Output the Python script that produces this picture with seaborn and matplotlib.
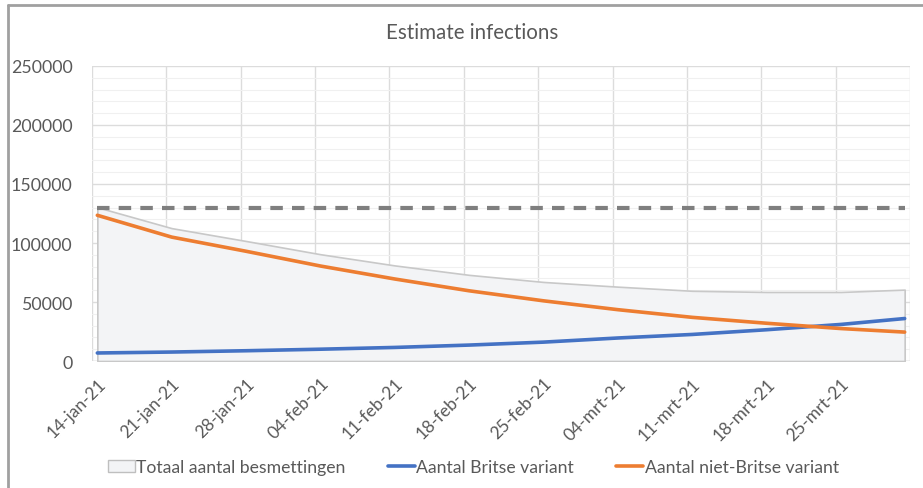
import pandas as pd
import matplotlib.pyplot as plt
from matplotlib.lines import Line2D
from matplotlib.patches import Patch
import seaborn as sns

# Weekly readings from the chart (last point = 31 March)
dates = ['2021-01-14', '2021-01-21', '2021-01-28', '2021-02-04', '2021-02-11', '2021-02-18',
         '2021-02-25', '2021-03-04', '2021-03-11', '2021-03-18', '2021-03-25', '2021-03-31']
britse = [6800, 7600, 8700, 10000, 11500, 13500, 16000, 19500, 22500, 26500, 31000, 36000]
niet_britse = [123500, 105000, 93000, 80500, 69500, 59500, 51000, 43500, 37000, 32000, 27500, 24500]
totaal = [130300, 112600, 101700, 90500, 81000, 73000, 67000, 63000, 59500, 58500, 58500, 60500]
grens = 130000

tick_dates = ['2021-01-14', '2021-01-21', '2021-01-28', '2021-02-04', '2021-02-11', '2021-02-18',
              '2021-02-25', '2021-03-04', '2021-03-11', '2021-03-18', '2021-03-25']
tick_labels = ['14-jan-21', '21-jan-21', '28-jan-21', '04-feb-21', '11-feb-21', '18-feb-21',
               '25-feb-21', '04-mrt-21', '11-mrt-21', '18-mrt-21', '25-mrt-21']

df = pd.DataFrame({'datum': pd.to_datetime(dates), 'Britse': britse,
                   'nietBritse': niet_britse, 'Totaal': totaal})

sns.set_theme(style='white')
plt.rcParams['font.family'] = ['Lato', 'DejaVu Sans']
txt = '#595959'

fig = plt.figure(figsize=(9.23, 4.89), dpi=100)
ax = fig.add_axes([0.0997, 0.2597, 0.8862, 0.6033])

blue = '#4472c4'
orange = '#ed7d31'

ax.fill_between(df['datum'], 0, df['Totaal'], facecolor='#f3f4f6',
                edgecolor='#c8c8c8', linewidth=1.2, zorder=2)
ax.hlines(grens, df['datum'].iloc[0], df['datum'].iloc[-1], colors='#7f7f7f',
          linestyles=(0, (3, 2.2)), linewidth=3, zorder=3)
sns.lineplot(data=df, x='datum', y='Britse', color=blue, linewidth=2.6, ax=ax, zorder=4)
sns.lineplot(data=df, x='datum', y='nietBritse', color=orange, linewidth=2.6, ax=ax, zorder=4)

start = pd.Timestamp('2021-01-14') - pd.Timedelta(hours=12)
end = start + pd.Timedelta(days=77)
ax.set_xlim(start, end)
ax.set_ylim(0, 250000)

# gridlines: weekly boundaries, major 50000, minor 10000
ax.set_xticks(pd.date_range(start, end, freq='7D'), minor=True)
ax.set_xticks(pd.to_datetime(tick_dates))
ax.set_xticklabels(tick_labels, rotation=45, ha='right', rotation_mode='anchor',
                   fontsize=12.5, color=txt)
ax.set_yticks(range(0, 250001, 50000))
ax.set_yticks(range(0, 250001, 10000), minor=True)
ax.set_yticklabels([str(v) for v in range(0, 250001, 50000)], fontsize=12.8, color=txt)
ax.grid(which='minor', axis='x', color='#dcdcdc', linewidth=1)
ax.grid(which='major', axis='x', visible=False)
ax.grid(which='major', axis='y', color='#dcdcdc', linewidth=1)
ax.grid(which='minor', axis='y', color='#f0f0f0', linewidth=0.8)
ax.set_axisbelow(True)
ax.tick_params(which='both', length=0)
ax.tick_params(axis='x', pad=10)
ax.tick_params(axis='y', pad=14)
for s in ax.spines.values():
    s.set_visible(False)
ax.axhline(0, color='#d9d9d9', linewidth=1, zorder=1)
ax.set_xlabel('')
ax.set_ylabel('')

fig.text(0.511, 0.932, 'Estimate infections', ha='center', va='center', fontsize=14.8, color=txt)

handles = [Patch(facecolor='#f3f4f6', edgecolor='#bfbfbf', label='Totaal aantal besmettingen'),
           Line2D([0], [0], color=blue, linewidth=2.6, label='Aantal Britse variant'),
           Line2D([0], [0], color=orange, linewidth=2.6, label='Aantal niet-Britse variant')]
leg = fig.legend(handles=handles, loc='center', bbox_to_anchor=(0.513, 0.043), ncol=3,
                 frameon=False, fontsize=12.7, handlelength=1.5, handletextpad=0.1,
                 columnspacing=2.4)
for t in leg.get_texts():
    t.set_color(txt)

# outer chart frame (top and left edges visible in the screenshot)
fig.add_artist(Line2D([8 / 923, 1], [1 - 6 / 489, 1 - 6 / 489], color='#a0a0a0',
                      linewidth=2, transform=fig.transFigure))
fig.add_artist(Line2D([8 / 923, 8 / 923], [0, 1 - 6 / 489], color='#a0a0a0',
                      linewidth=2, transform=fig.transFigure))

fig.savefig('out.png', dpi=100, facecolor='white')
